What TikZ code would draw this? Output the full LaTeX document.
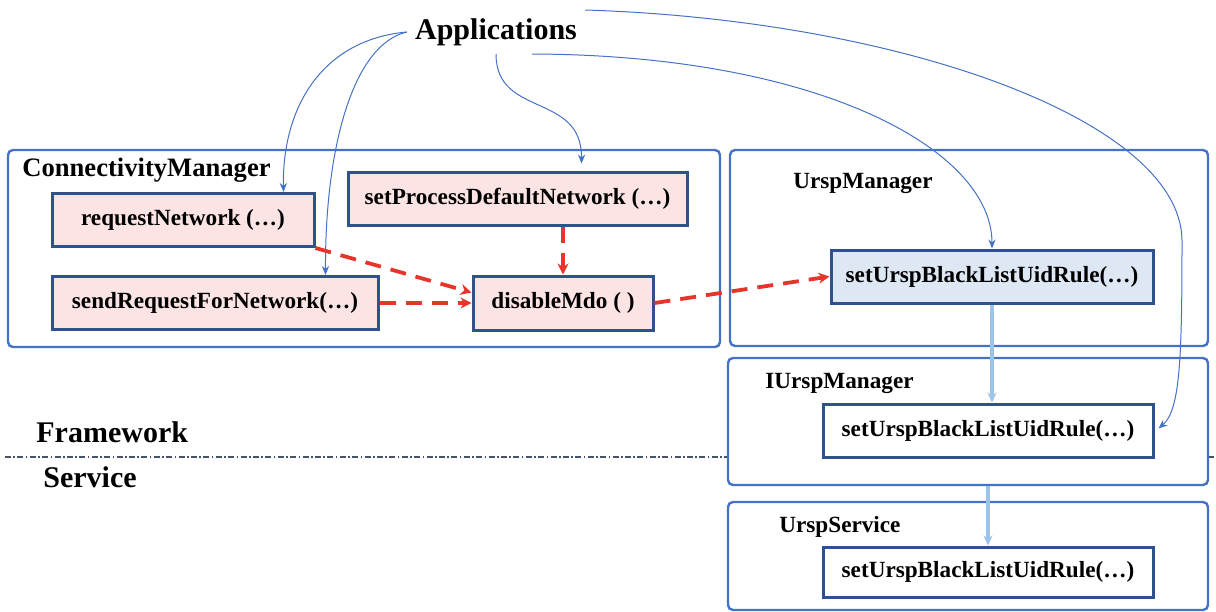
\documentclass[tikz,border=0pt]{standalone}
\usepackage{fontspec}
\setmainfont{Liberation Serif}
\usepackage{tikz}
\usepackage{xcolor}
\usetikzlibrary{arrows.meta,positioning,calc}
\definecolor{paneblue}{HTML}{4472C4}
\definecolor{boxline}{HTML}{2F528F}
\definecolor{pinkbg}{HTML}{FBE4E3}
\definecolor{blubg}{HTML}{DEE8F5}
\definecolor{mdored}{HTML}{E8352B}
\definecolor{passblue}{HTML}{9DC3E6}
\definecolor{tierline}{HTML}{44546A}
\newcommand{\callfont}{\fontsize{11.6}{13}\selectfont\bfseries}
\newcommand{\panefont}{\fontsize{11.6}{13}\selectfont\bfseries}
\newcommand{\tierfont}{\fontsize{15}{17}\selectfont\bfseries}
\tikzset{
  pane/.style={draw=paneblue,fill=white,line width=1.2pt,rounded corners=2.5pt,
               inner sep=0pt},
  panelabel/.style={anchor=west,inner sep=0pt,font=\panefont},
  callbox/.style={draw=boxline,fill=pinkbg,line width=1.5pt,inner sep=0pt,
                  minimum height=26.5pt,align=center,font=\callfont},
  urspbox/.style={callbox,fill=blubg},
  uidbox/.style={callbox,fill=white},
  callarr/.style={-{Stealth[length=4.5pt,width=3.6pt]},draw=paneblue,line width=0.5pt},
  mdoarr/.style={-{Stealth[length=5.5pt,width=5.5pt]},draw=mdored,line width=1.9pt,
                 dash pattern=on 8pt off 5pt},
  passarr/.style={-{Stealth[length=5pt,width=4.5pt]},draw=passblue,line width=2pt},
  tiersep/.style={draw=tierline,line width=0.7pt,
                  dash pattern=on 3pt off 1.2pt on 0.8pt off 1.2pt}
}

\begin{document}
\begin{tikzpicture}[x=0.5pt,y=-0.5pt]
  \useasboundingbox (0,0) rectangle (1216,611);

  % framework / service split, hidden behind the panes
  \draw[tiersep] (5,457) -- (1216,457);
  \node[anchor=west,inner sep=0pt,font=\tierfont] (fwlbl) at (36,432) {Framework};
  \node[anchor=west,inner sep=0pt,font=\tierfont] (svlbl) at (43,477) {Service};

  % panes
  \node[pane,minimum width=356pt,minimum height=98.5pt] (cmpane) at (364,248.5) {};
  \node[pane,minimum width=239pt,minimum height=98pt] (umpane) at (969,248) {};
  \node[pane,minimum width=240pt,minimum height=63.5pt] (ifpane) at (968,421.5) {};
  \node[pane,minimum width=240pt,minimum height=54pt] (svcpane) at (968,556) {};

  \node[panelabel,font=\fontsize{13.3}{15}\selectfont\bfseries] (cmlbl) at (22,170) {ConnectivityManager};
  \node[panelabel] (umlbl) at (793,183) {UrspManager};
  \node[panelabel] (iflbl) at (765,383) {IUrspManager};
  \node[panelabel] (svclbl) at (779,527) {UrspService};

  % calls
  \node[font=\tierfont,inner sep=4pt] (apps) at (496,32) {Applications};
  \node[callbox,minimum width=131pt] (reqnet) at (183,220) {requestNetwork (…)};
  \node[callbox,minimum width=163pt] (sendreq) at (215,303) {sendRequestForNetwork(…)};
  \node[callbox,minimum width=169.5pt] (setproc) at (517.5,198.5) {setProcessDefaultNetwork (…)};
  \node[callbox,minimum width=90pt,minimum height=27pt] (mdo) at (563,303) {disableMdo ( )};
  \node[urspbox,minimum width=161pt] (blkmgr) at (992,276.5) {setUrspBlackListUidRule(…)};
  \node[uidbox,minimum width=165pt] (blkif) at (988,430.5) {setUrspBlackListUidRule(…)};
  \node[uidbox,minimum width=165pt,minimum height=25pt] (blksvc) at (988,572) {setUrspBlackListUidRule(…)};

  % app entry points
  \draw[callarr] (apps.west) .. controls (320,40) and (282,110) .. ([xshift=-16pt]reqnet.north east);
  \draw[callarr] (apps.west) .. controls (352,45) and (325,150) .. ([xshift=-27pt]sendreq.north east);
  \draw[callarr] (apps.south) .. controls (496,118) and (582,92) .. ([xshift=32pt,yshift=3.5pt]setproc.north);
  \draw[callarr] ([xshift=18pt]apps.south) .. controls (820,55) and (992,150) .. (blkmgr.north);
  \draw[callarr] (apps.north east) .. controls (900,20) and (1180,120) .. (1182,240)
                 .. controls (1182,360) and (1180,410) .. ([xshift=2pt,yshift=1pt]blkif.east);

  % disableMdo path
  \draw[mdoarr] (reqnet.south east) -- ([yshift=-9pt]mdo.north west);
  \draw[mdoarr] (sendreq.east) -- (mdo.west);
  \draw[mdoarr] (setproc.south -| mdo.north) -- (mdo.north);
  \draw[mdoarr] (mdo.east) -- (blkmgr.west);

  % binder hand-off
  \draw[passarr] (blkmgr.south) -- (blkmgr.south |- blkif.north);
  \draw[passarr] (ifpane.south -| blksvc.north) -- (blksvc.north);
\end{tikzpicture}
\end{document}
